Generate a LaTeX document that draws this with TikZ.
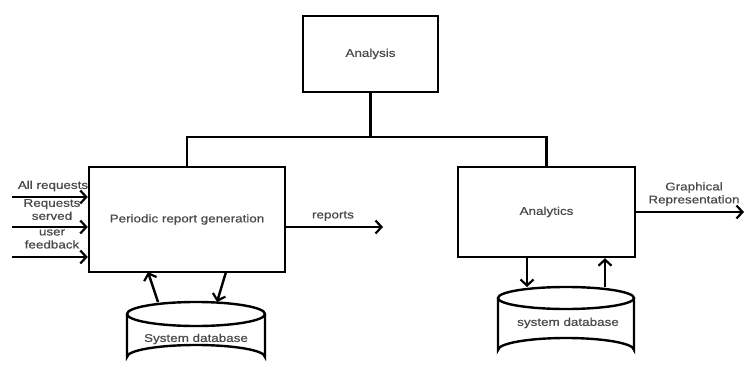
\documentclass[tikz,border=0pt]{standalone}
\usepackage{fontspec}
\setmainfont{Liberation Sans}[FakeStretch=1.2,FakeBold=0.6]
\usetikzlibrary{arrows.meta}
\definecolor{txt}{HTML}{4A4A4A}
\begin{document}
\begin{tikzpicture}[x=1pt,y=-1pt,
  line width=2.4pt,
  box/.style={draw=black,rectangle,inner sep=0pt,line width=2.4pt,text=txt,font=\fontsize{11.2}{13}\selectfont},
  lbl/.style={inner sep=0pt,text=txt,align=center,font=\fontsize{11.2}{13}\selectfont},
  arr/.style={-{Straight Barb[length=6pt,width=13pt,line width=2.2pt]}}]
\useasboundingbox (0,0) rectangle (745,369);
% boxes
\node[box,minimum width=135pt,minimum height=76pt] (analysis) at (370.5,54) {Analysis};
\node[box,minimum width=196pt,minimum height=105pt] (periodic) at (187,219.5) {Periodic report generation};
\node[box,minimum width=177pt,minimum height=90pt] (analytics) at (546.5,212) {Analytics};
% tree
\coordinate (j) at (370.5,137);
\draw (analysis.south) -- (j);
\draw (periodic.north) |- (j) -| (analytics.north);
% inputs
\coordinate (in1) at (12,197);
\coordinate (in2) at (12,227);
\coordinate (in3) at (12,257);
\draw[arr] (in1) -- (in1 -| periodic.west);
\draw[arr] (in2) -- (in2 -| periodic.west);
\draw[arr] (in3) -- (in3 -| periodic.west);
\node[lbl] (l1) at (53,186) {All requests};
\node[lbl] (l2) at (52,209.5) {Requests\\served};
\node[lbl] (l3) at (52,239) {user\\feedback};
% reports
\coordinate (rep) at (383,227);
\draw[arr] (rep -| periodic.east) -- (rep);
\node[lbl] (lrep) at (333,216) {reports};
% graphical
\coordinate (gr) at (744,212);
\draw[arr] (gr -| analytics.east) -- (gr);
\node[lbl] (lgr) at (694,194) {Graphical\\Representation};
% left cylinder
\draw (127,314) -- (127,357) arc[start angle=180,end angle=360,x radius=69,y radius=12] -- (265,314);
\draw (196,314) ellipse[x radius=69,y radius=12];
\node[lbl] (db1) at (196,339) {System database};
\coordinate (db1a) at (158,302);
\coordinate (db1b) at (217,302);
\draw[arr] (db1a) -- (148,272) coordinate (p1a);
\draw[arr] (226,272) coordinate (p1b) -- (db1b);
% right cylinder
\draw (498,298) -- (498,350) arc[start angle=180,end angle=360,x radius=68,y radius=12] -- (634,298);
\draw (566,298) ellipse[x radius=68,y radius=11];
\node[lbl] (db2) at (568,323) {system database};
\coordinate (db2a) at (527,287);
\coordinate (db2b) at (605,287);
\draw[arr] (db2a |- analytics.south) -- (db2a);
\draw[arr] (db2b) -- (db2b |- analytics.south);
\end{tikzpicture}
\end{document}
